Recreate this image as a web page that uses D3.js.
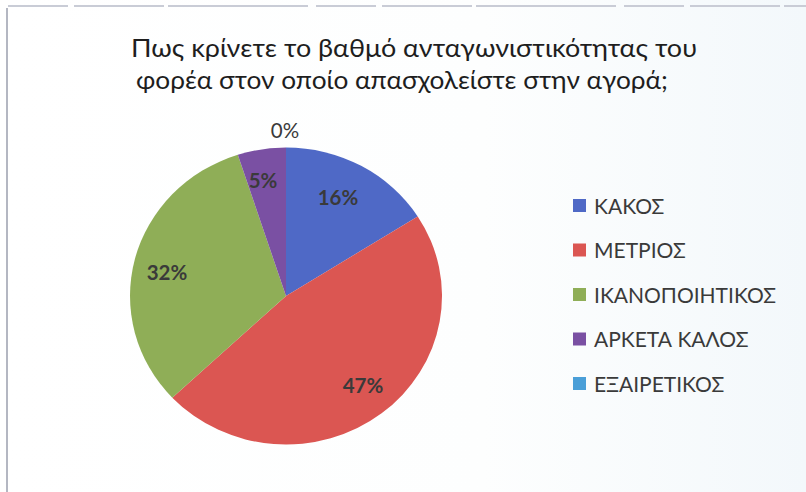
<!DOCTYPE html>
<html>
<head>
<meta charset="utf-8">
<script src="https://cdn.jsdelivr.net/npm/d3@7"></script>
<style>
  html, body { margin: 0; padding: 0; background: #ffffff; }
  svg { display: block; }
</style>
</head>
<body>
<svg id="chart" width="806" height="492"></svg>
<script>
// Survey answers and their shares (%)
const categories = ["ΚΑΚΟΣ", "ΜΕΤΡΙΟΣ", "ΙΚΑΝΟΠΟΙΗΤΙΚΟΣ", "ΑΡΚΕΤΑ ΚΑΛΟΣ", "ΕΞΑΙΡΕΤΙΚΟΣ"];
const shares = [16, 47, 32, 5, 0];
const colors = ["#4F69C6", "#DB5652", "#8FAE57", "#7A50A3", "#4A9FD8"];
const titleLines = [
  "Πως κρίνετε το βαθμό ανταγωνιστικότητας του",
  "φορέα στον οποίο απασχολείστε στην αγορά;"
];

const svg = d3.select("#chart");
const W = 806, H = 492;
const FONT = "Lato, 'Open Sans', sans-serif";

// soft background tint toward the right
const defs = svg.append("defs");
const bg = defs.append("linearGradient").attr("id", "bg").attr("x1", "0").attr("x2", "1").attr("y1", "0").attr("y2", "0");
bg.append("stop").attr("offset", "0").attr("stop-color", "#ffffff");
bg.append("stop").attr("offset", "0.6").attr("stop-color", "#fdfefe");
bg.append("stop").attr("offset", "1").attr("stop-color", "#f3f8fb");
svg.append("rect").attr("width", W).attr("height", H).attr("fill", "url(#bg)");

// frame lines
svg.append("line").attr("x1", 8).attr("x2", W).attr("y1", 6).attr("y2", 6)
  .attr("stroke", "#c9ccd6").attr("stroke-width", 2).attr("stroke-dasharray", "60 6 90 4 140 8");
svg.append("line").attr("x1", 7).attr("x2", 7).attr("y1", 8).attr("y2", H)
  .attr("stroke", "#b4b7c2").attr("stroke-width", 2);

// title
const titleX = [414, 402];
const titleW = [566, 532];
svg.append("g").selectAll("text").data(titleLines).join("text")
  .attr("x", (d, i) => titleX[i])
  .attr("y", (d, i) => 57 + i * 32)
  .attr("text-anchor", "middle")
  .attr("font-family", FONT)
  .attr("font-size", 25)
  .attr("fill", "#1e1e1e")
  .attr("textLength", (d, i) => titleW[i])
  .attr("lengthAdjust", "spacingAndGlyphs")
  .text(d => d);

// pie
const cx = 286, cy = 296, rx = 156, ry = 148.5;
const data = categories.map((c, i) => ({ name: c, value: shares[i], color: colors[i] }));
const pie = d3.pie().value(d => d.value).sort(null);
const arcs = pie(data);
const arc = d3.arc().innerRadius(0).outerRadius(rx);

const pg = svg.append("g")
  .attr("transform", `translate(${cx},${cy}) scale(1,${ry / rx})`);
pg.selectAll("path").data(arcs).join("path")
  .attr("d", arc)
  .attr("fill", d => d.data.color);

// value labels
const labelPos = {
  "ΚΑΚΟΣ": [338, 205],
  "ΜΕΤΡΙΟΣ": [363, 393],
  "ΙΚΑΝΟΠΟΙΗΤΙΚΟΣ": [167, 280],
  "ΑΡΚΕΤΑ ΚΑΛΟΣ": [263, 188],
  "ΕΞΑΙΡΕΤΙΚΟΣ": [285, 138]
};
svg.append("g").selectAll("text").data(arcs).join("text")
  .attr("x", d => labelPos[d.data.name][0])
  .attr("y", d => labelPos[d.data.name][1])
  .attr("text-anchor", "middle")
  .attr("font-family", FONT)
  .attr("font-weight", d => d.data.value === 0 ? 400 : 700)
  .attr("font-size", 20.5)
  .attr("fill", "#3a3a3a")
  .text(d => d.data.value + "%");

// legend
const legend = svg.append("g").attr("transform", "translate(573,206)");
const item = legend.selectAll("g").data(data).join("g")
  .attr("transform", (d, i) => `translate(0,${i * 44.5})`);
item.append("rect").attr("x", 0).attr("y", -7).attr("width", 13).attr("height", 13)
  .attr("fill", d => d.color);
item.append("text").attr("x", 21).attr("y", 7.5)
  .attr("font-family", FONT)
  .attr("font-size", 21)
  .attr("fill", "#3a3a3a")
  .text(d => d.name);
</script>
</body>
</html>
